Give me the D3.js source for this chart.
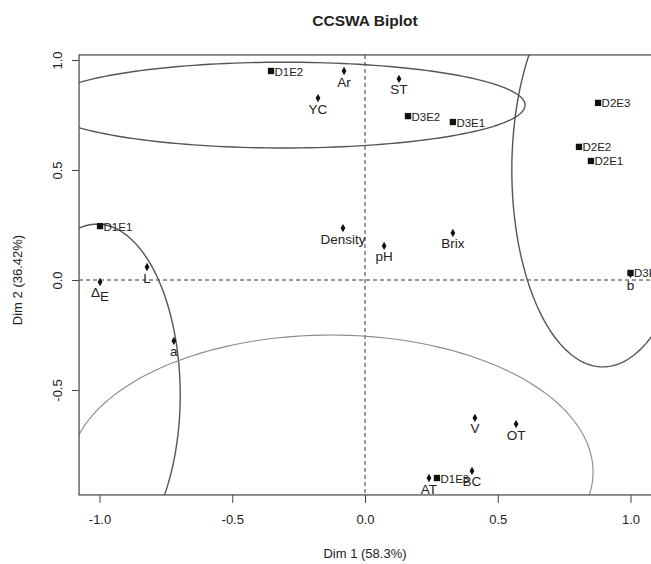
<!DOCTYPE html>
<meta charset="utf-8">
<style>
body { margin: 0; background: #fff; }
text { font-family: "Liberation Sans", Arial, sans-serif; fill: #222; }
.frame { fill: none; stroke: #444; stroke-width: 1.2px; }
.zero { stroke: #333; stroke-width: 1px; stroke-dasharray: 4,3; }
.tick line { stroke: #444; }
</style>
<body>
<script src="https://d3js.org/d3.v7.min.js"></script>
<script>
// samples (squares)
var sampleNames = ["D1E1", "D1E2", "D1E3", "D2E1", "D2E2", "D2E3", "D3E1", "D3E2", "D3E3"];
var sampleX = [-0.998, -0.354, 0.271, 0.851, 0.806, 0.878, 0.331, 0.162, 1.0];
var sampleY = [0.245, 0.95, -0.9, 0.541, 0.605, 0.805, 0.718, 0.745, 0.032];

// variables (diamonds)
var varNames = ["Ar", "YC", "ST", "Density", "pH", "Brix", "L", "ΔE", "a", "b", "V", "OT", "BC", "AT"];
var varX = [-0.079, -0.177, 0.128, -0.083, 0.072, 0.331, -0.821, -0.998, -0.72, 1.0, 0.414, 0.569, 0.403, 0.241];
var varY = [0.95, 0.827, 0.914, 0.236, 0.155, 0.214, 0.059, -0.009, -0.277, 0.027, -0.627, -0.655, -0.868, -0.9];

// cluster ellipses
var ellCx = [-0.305, 0.896, -1.009, -0.128];
var ellCy = [0.795, 0.5, -0.523, -0.873];
var ellRx = [0.908, 0.343, 0.313, 0.987];
var ellRy = [0.195, 0.895, 0.777, 0.623];
var ellColor = ["#555", "#555", "#555", "#8a8a8a"];

var xTicks = [-1, -0.5, 0, 0.5, 1];
var yTicks = [-0.5, 0, 0.5, 1];
// R style labels with a plain hyphen
var fmt = function(v) { return (v < 0 ? "-" : "") + Math.abs(v).toFixed(1); };

var width = 651, height = 564;
var svg = d3.select("body").append("svg")
    .attr("width", width)
    .attr("height", height);

var x = d3.scaleLinear().domain([-1, 1]).range([99.5, 630.5]);
var y = d3.scaleLinear().domain([-0.5, 1]).range([390, 60]);

var xMin = -1.077, xMax = 1.08, yMin = -0.977, yMax = 1.023;

svg.append("defs").append("clipPath").attr("id", "plotclip")
  .append("rect")
    .attr("x", x(xMin)).attr("y", y(yMax))
    .attr("width", x(xMax) - x(xMin))
    .attr("height", y(yMin) - y(yMax));

var plot = svg.append("g").attr("clip-path", "url(#plotclip)");

// zero lines
plot.append("line").attr("class", "zero")
    .attr("x1", x(0)).attr("x2", x(0))
    .attr("y1", y(yMax)).attr("y2", y(yMin));
plot.append("line").attr("class", "zero")
    .attr("x1", x(xMin)).attr("x2", x(xMax))
    .attr("y1", y(0)).attr("y2", y(0));

// ellipses
var line = d3.line().x(function(d) { return x(d[0]); }).y(function(d) { return y(d[1]); });
ellCx.forEach(function(cx, i) {
  var pts = d3.range(0, 361, 2).map(function(a) {
    var t = a * Math.PI / 180;
    return [cx + ellRx[i] * Math.cos(t), ellCy[i] + ellRy[i] * Math.sin(t)];
  });
  plot.append("path")
      .attr("d", line(pts))
      .attr("fill", "none")
      .attr("stroke", ellColor[i])
      .attr("stroke-width", i == 3 ? 1.1 : 1.4);
});

// frame
svg.append("rect").attr("class", "frame")
    .attr("x", x(xMin)).attr("y", y(yMax))
    .attr("width", x(xMax) - x(xMin))
    .attr("height", y(yMin) - y(yMax));

// axes
var xAxis = svg.append("g")
    .attr("transform", "translate(0," + y(yMin) + ")")
    .call(d3.axisBottom(x).tickValues(xTicks).tickFormat(fmt).tickSizeOuter(0).tickSize(8).tickPadding(12));
xAxis.select(".domain").remove();
xAxis.selectAll("text").attr("font-size", 13).style("font-family", "'Liberation Sans', Arial, sans-serif").attr("fill", "#222");

var yAxis = svg.append("g")
    .attr("transform", "translate(" + x(xMin) + ",0)")
    .call(d3.axisLeft(y).tickValues(yTicks).tickFormat(fmt).tickSizeOuter(0).tickSize(7));
yAxis.select(".domain").remove();
yAxis.selectAll("text")
    .attr("font-size", 13)
    .style("font-family", "'Liberation Sans', Arial, sans-serif")
    .attr("fill", "#222")
    .attr("text-anchor", "middle")
    .attr("x", 0).attr("dy", 0)
    .attr("transform", "translate(-17,0) rotate(-90)");

// titles
svg.append("text").attr("x", 365).attr("y", 26)
    .attr("text-anchor", "middle").attr("font-size", 15.5).attr("font-weight", "bold")
    .text("CCSWA Biplot");
svg.append("text").attr("x", 365).attr("y", 558)
    .attr("text-anchor", "middle").attr("font-size", 13)
    .text("Dim 1 (58.3%)");
svg.append("text")
    .attr("transform", "translate(22," + y(0) + ") rotate(-90)")
    .attr("text-anchor", "middle").attr("font-size", 13)
    .text("Dim 2 (36.42%)");

// variable points and labels
var vars = varNames.map(function(n, i) { return {name: n, x: varX[i], y: varY[i]}; });
plot.selectAll(".var").data(vars).enter().append("path")
    .attr("class", "var")
    .attr("d", d3.symbol().type(d3.symbolDiamond).size(20))
    .attr("fill", "#111")
    .attr("transform", function(d) { return "translate(" + x(d.x) + "," + y(d.y) + ")"; });
plot.selectAll(".vlab").data(vars).enter().append("text")
    .attr("class", "vlab")
    .attr("x", function(d) { return x(d.x); })
    .attr("y", function(d) { return y(d.y) + 15.5; })
    .attr("text-anchor", "middle")
    .attr("font-size", 13.5)
    .each(function(d) {
      var t = d3.select(this);
      if (d.name == "ΔE") {
        t.append("tspan").text("Δ");
        t.append("tspan").attr("dy", 4).text("E");
      } else {
        t.text(d.name);
      }
    });

// sample points and labels
var samples = sampleNames.map(function(n, i) { return {name: n, x: sampleX[i], y: sampleY[i]}; });
plot.selectAll(".smp").data(samples).enter().append("path")
    .attr("class", "smp")
    .attr("d", d3.symbol().type(d3.symbolSquare).size(40))
    .attr("fill", "#111")
    .attr("transform", function(d) { return "translate(" + x(d.x) + "," + y(d.y) + ")"; });
plot.selectAll(".slab").data(samples).enter().append("text")
    .attr("class", "slab")
    .attr("x", function(d) { return x(d.x) + 3.5; })
    .attr("y", function(d) { return y(d.y) + 4.5; })
    .attr("font-size", 11.5)
    .attr("fill", "#333")
    .text(function(d) { return d.name; });
</script>
</body>
